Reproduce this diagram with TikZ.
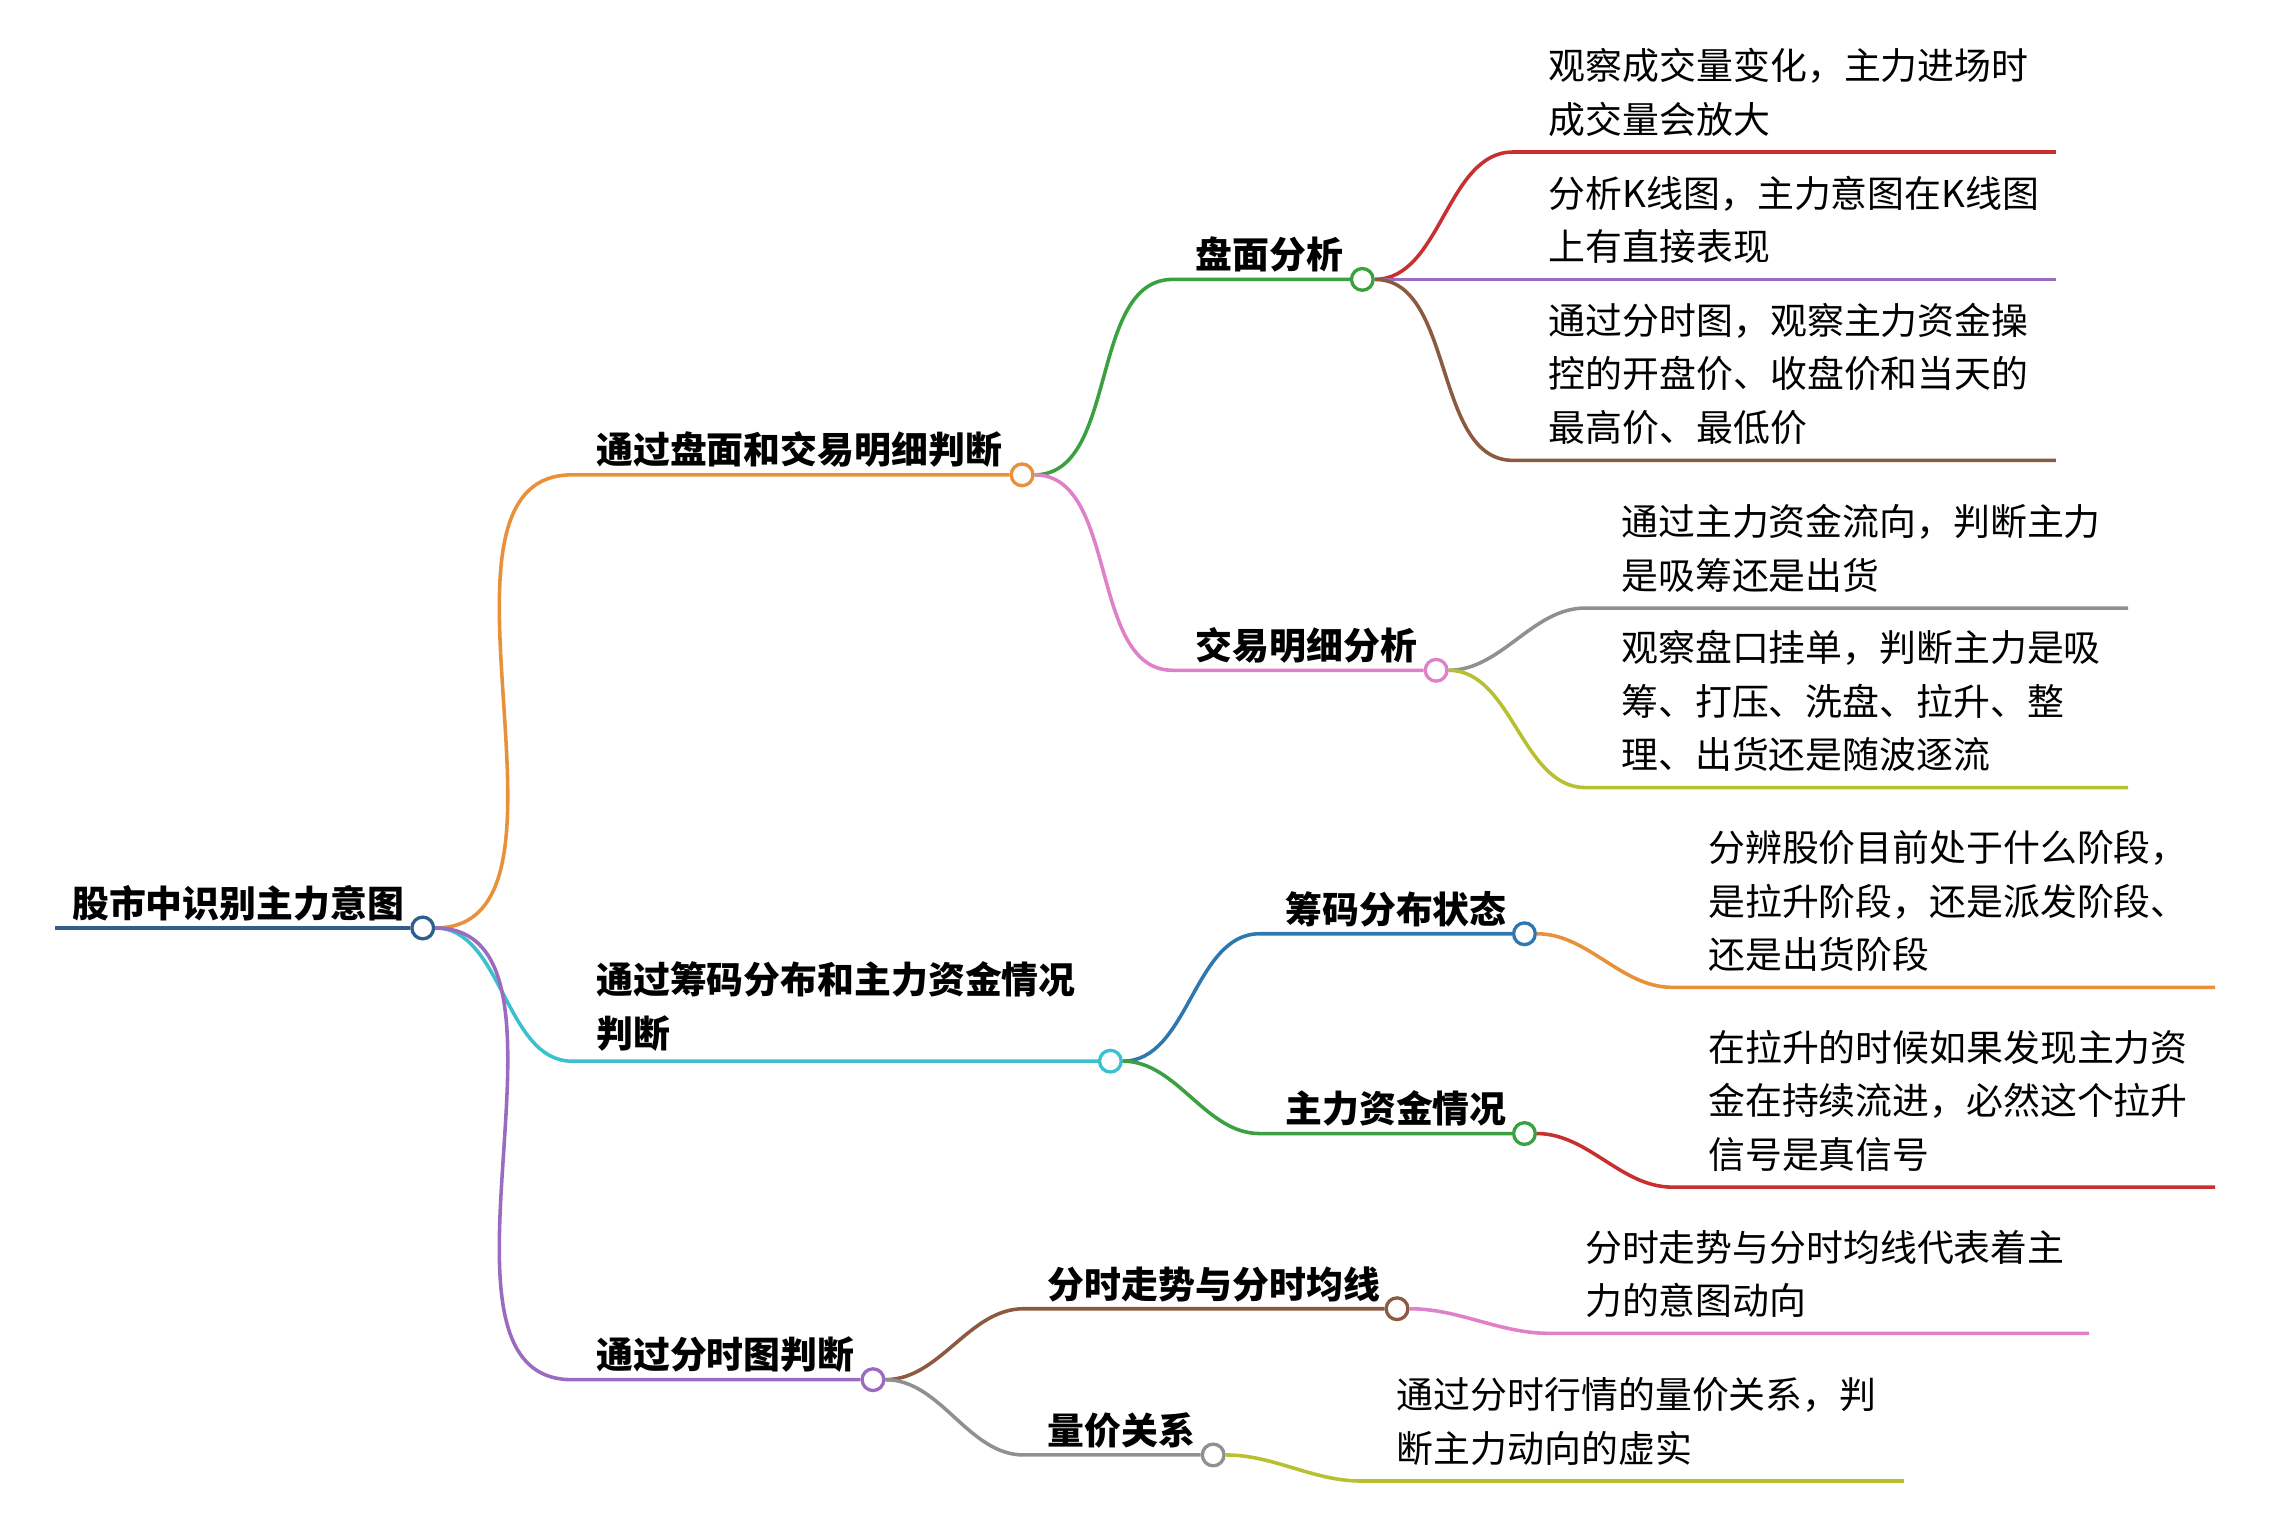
\documentclass[tikz,border=0pt]{standalone}
\usepackage{fontspec}
\setmainfont{Noto Sans CJK SC}
\begin{document}
\begin{tikzpicture}[x=0.02cm,y=-0.02cm,
  ln/.style={line width=1.4pt},
  dot/.style={circle,draw,fill=white,line width=1.3pt,inner sep=0pt,minimum size=0.3cm},
  lbl/.style={anchor=south west,font=\fontsize{14.5}{21}\selectfont\bfseries,inner sep=2pt},
  txt/.style={anchor=south west,font=\fontsize{14.5}{21}\selectfont,align=left,inner sep=2pt}]
\definecolor{corange}{HTML}{E8913A}\definecolor{ccyan}{HTML}{3CC0D0}
\definecolor{cpurple}{HTML}{9B6BC0}\definecolor{cgreen}{HTML}{3AA040}
\definecolor{cpink}{HTML}{E080C8}\definecolor{cblue}{HTML}{2E78B0}
\definecolor{cbrown}{HTML}{8B5A40}\definecolor{cgray}{HTML}{909090}
\definecolor{cred}{HTML}{C83030}\definecolor{colive}{HTML}{B8C030}
\definecolor{croot}{HTML}{2F5F8F}
\useasboundingbox (0,0) rectangle (1568,1060);
% root
\coordinate (r0) at (38,641);
\node[dot,draw=croot] (r) at (292,641) {};
\draw[ln,croot] (r0) -- (r);
\node[lbl] at (46,640) {股市中识别主力意图};
\newcommand\branch[7]{%
  \coordinate (#1s) at (#3,#4);
  \node[dot,draw=#6] (#1) at (#5,#4) {};
  \draw[ln,#6] (#2.east) to[out=0,in=180,looseness=0.9] (#1s) -- (#1);
  #7}
\branch{a}{r}{395}{328}{706}{corange}{\node[lbl] at (408,327) {通过盘面和交易明细判断};}
\branch{b}{r}{395}{733}{767}{ccyan}{\node[txt,font=\fontsize{14.5}{21}\selectfont\bfseries] at (408,730) {通过筹码分布和主力资金情况\\判断};}
\branch{c}{r}{395}{953}{603}{cpurple}{\node[lbl] at (408,952) {通过分时图判断};}
\branch{a1}{a}{810}{193}{941}{cgreen}{\node[lbl] at (822,192) {盘面分析};}
\branch{a2}{a}{810}{463}{992}{cpink}{\node[lbl] at (822,462) {交易明细分析};}
\branch{b1}{b}{870}{645}{1053}{cblue}{\node[lbl] at (884,644) {筹码分布状态};}
\branch{b2}{b}{870}{783}{1053}{cgreen}{\node[lbl] at (884,782) {主力资金情况};}
\branch{c1}{c}{707}{904}{965}{cbrown}{\node[lbl] at (720,903) {分时走势与分时均线};}
\branch{c2}{c}{707}{1005}{838}{cgray}{\node[lbl] at (720,1004) {量价关系};}
\newcommand\leaf[7]{%
  \coordinate (#1s) at (#3,#4);\coordinate (#1e) at (#5,#4);
  \draw[ln,#6] (#2.east) to[out=0,in=180,looseness=0.9] (#1s) -- (#1e);
  \node[txt] at ([xshift=12]#1s) [yshift=4] {#7};}
\leaf{l1}{a1}{1045}{105}{1420}{cred}{观察成交量变化，主力进场时\\成交量会放大}
\leaf{l2}{a1}{1045}{193}{1420}{cpurple}{分析K线图，主力意图在K线图\\上有直接表现}
\leaf{l3}{a1}{1045}{318}{1420}{cbrown}{通过分时图，观察主力资金操\\控的开盘价、收盘价和当天的\\最高价、最低价}
\leaf{l4}{a2}{1095}{420}{1470}{cgray}{通过主力资金流向，判断主力\\是吸筹还是出货}
\leaf{l5}{a2}{1095}{544}{1470}{colive}{观察盘口挂单，判断主力是吸\\筹、打压、洗盘、拉升、整\\理、出货还是随波逐流}
\leaf{l6}{b1}{1155}{682}{1530}{corange}{分辨股价目前处于什么阶段，\\是拉升阶段，还是派发阶段、\\还是出货阶段}
\leaf{l7}{b2}{1155}{820}{1530}{cred}{在拉升的时候如果发现主力资\\金在持续流进，必然这个拉升\\信号是真信号}
\leaf{l8}{c1}{1070}{921}{1443}{cpink}{分时走势与分时均线代表着主\\力的意图动向}
\leaf{l9}{c2}{940}{1023}{1315}{colive}{通过分时行情的量价关系，判\\断主力动向的虚实}
\end{tikzpicture}
\end{document}
